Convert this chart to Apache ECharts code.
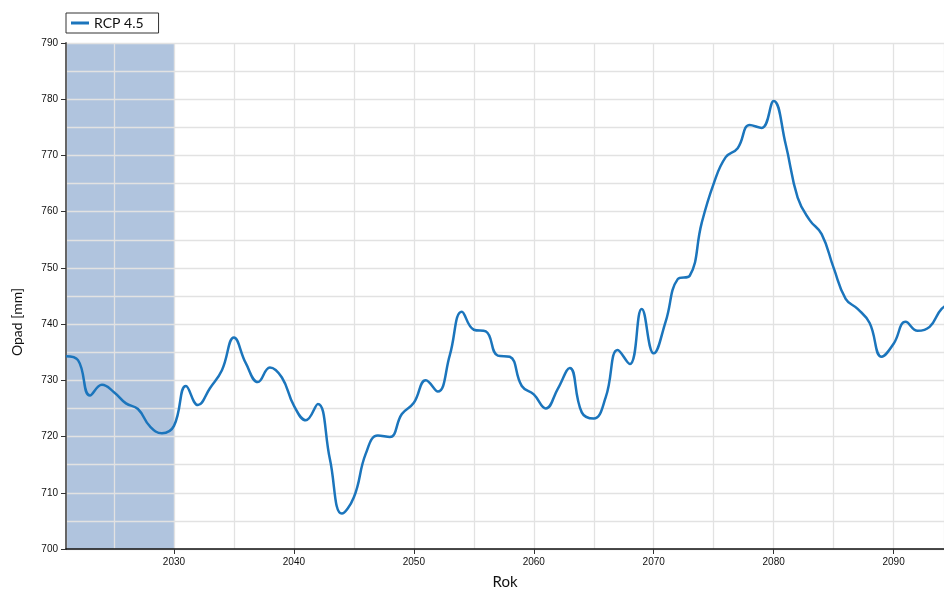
<!DOCTYPE html>
<html>
<head>
<meta charset="utf-8">
<script src="https://cdn.jsdelivr.net/npm/echarts@6/dist/echarts.min.js"></script>
<style>html,body{margin:0;padding:0;background:#fff}#c{width:944px;height:590px}</style>
</head>
<body>
<div id="c"></div>
<script>
var seriesName = 'RCP 4.5';
var years = [2021,2022,2023,2024,2025,2026,2027,2028,2029,2030,
  2031,2032,2033,2034,2035,2036,2037,2038,2039,2040,
  2041,2042,2043,2044,2045,2046,2047,2048,2049,2050,
  2051,2052,2053,2054,2055,2056,2057,2058,2059,2060,
  2061,2062,2063,2064,2065,2066,2067,2068,2069,2070,
  2071,2072,2073,2074,2075,2076,2077,2078,2079,2080,
  2081,2082,2083,2084,2085,2086,2087,2088,2089,2090,
  2091,2092,2093,2094,2095];
var precip = [734.3,733.6,727.3,729.2,727.9,725.9,724.9,721.8,720.6,721.9,
  729.0,725.6,728.6,731.8,737.6,733.0,729.7,732.3,730.5,725.5,
  722.9,725.8,716.0,706.3,709.2,717.0,720.2,719.9,724.0,726.0,
  730.0,728.0,734.5,742.2,739.0,738.7,734.4,734.2,729.0,727.5,
  725.0,728.5,732.2,724.3,723.2,727.0,735.4,732.9,742.7,734.8,
  740.5,748.0,748.6,758.0,765.0,769.7,771.3,775.4,774.9,779.7,
  772.0,762.5,758.5,756.0,750.0,744.5,742.7,740.2,734.2,736.5,
  740.4,738.8,739.5,742.7,744.0];
var yTicks = [700,710,720,730,740,750,760,770,780,790];
var shadedRange = [2021, 2030];

var data = years.map(function(y, i){ return [y, precip[i]]; });
var gridColor = '#e2e2e2';
var labelFont = {color:'#111', fontSize:10, fontFamily:'Liberation Sans'};

var chart = echarts.init(document.getElementById('c'));
chart.setOption({
  animation: false,
  backgroundColor: '#fff',
  grid: {left: 66, right: 0, top: 43, bottom: 41, outerBoundsMode: 'none', containLabel: false},
  legend: {
    left: 66, top: 13,
    data: [seriesName],
    icon: 'rect', itemWidth: 18, itemHeight: 3, itemGap: 6,
    borderColor: '#333', borderWidth: 1, borderRadius: 0,
    padding: [3, 15, 3, 5],
    textStyle: {fontFamily: 'Lato', fontSize: 14, color: '#111'}
  },
  xAxis: [{
    type: 'value', min: 2021, max: 2094.2,
    minInterval: 10, maxInterval: 10, z: 2,
    name: 'Rok', nameLocation: 'middle', nameGap: 26,
    nameTextStyle: {fontFamily: 'Lato', fontSize: 15, color: '#111'},
    axisLine: {show: true, onZero: false, lineStyle: {color: '#111', width: 1.5}},
    axisTick: {show: true, length: 5, lineStyle: {color: '#333'}},
    axisLabel: Object.assign({margin: 8, showMinLabel: false, showMaxLabel: false,
      formatter: function(v){ return (v % 10 === 0) ? String(v) : ''; }}, labelFont),
    splitLine: {show: false}
  }, {
    type: 'value', min: 2021, max: 2094.2, position: 'bottom',
    minInterval: 5, maxInterval: 5, z: 2,
    axisLine: {show: false}, axisTick: {show: false}, axisLabel: {show: false},
    splitLine: {show: true, lineStyle: {color: gridColor, width: 1.3}}
  }],
  yAxis: {
    type: 'value', min: yTicks[0], max: yTicks[yTicks.length-1], interval: 10, z: 2,
    name: 'Opad [mm]', nameLocation: 'middle', nameGap: 42,
    nameTextStyle: {fontFamily: 'Lato', fontSize: 14, color: '#111', padding: [0, 52, 0, 0]},
    axisLine: {show: true, lineStyle: {color: '#666', width: 2}},
    axisTick: {show: true, length: 5, lineStyle: {color: '#333'}},
    axisLabel: Object.assign({margin: 8}, labelFont),
    splitLine: {show: true, lineStyle: {color: gridColor, width: 1.3}},
    minorTick: {show: false, splitNumber: 2},
    minorSplitLine: {show: true, lineStyle: {color: gridColor, width: 1.3}}
  },
  series: [{
    type: 'line', name: 'shade', data: [], z: 0, silent: true,
    markArea: {silent: true, z: 0, itemStyle: {color: '#b0c4de', opacity: 1},
      data: [[{xAxis: shadedRange[0]}, {xAxis: shadedRange[1]}]]}
  }, {
    type: 'line', name: seriesName, data: data, z: 3,
    smooth: 0.45, showSymbol: false, symbol: 'none',
    color: '#1b75bc',
    lineStyle: {color: '#1b75bc', width: 2.5}
  }]
});
</script>
</body>
</html>
